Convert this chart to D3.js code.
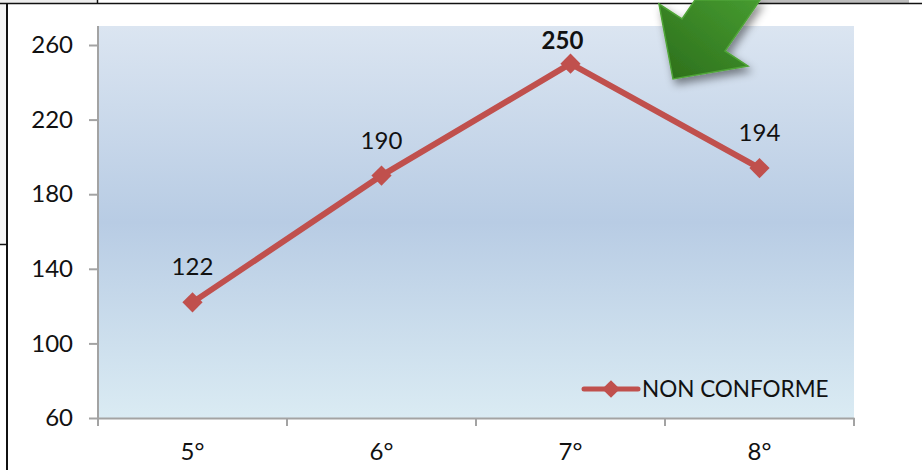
<!DOCTYPE html>
<html>
<head>
<meta charset="utf-8">
<script src="https://cdn.jsdelivr.net/npm/d3@7"></script>
<style>
  html, body { margin: 0; padding: 0; background: #fff; }
  svg { display: block; }
  text { font-family: Lato, "Open Sans", sans-serif; fill: #111; }
</style>
</head>
<body>
<div id="chart"></div>
<script>
const categories = ["5°", "6°", "7°", "8°"];
const values = [122, 190, 250, 194];
const boldLabels = [false, false, true, false];
const yTicks = [60, 100, 140, 180, 220, 260];
const seriesName = "NON CONFORME";
const arrowOutline = [[659,4],[682,19],[695,0],[760,0],[725,51],[748,66],[673,79]];

const width = 922, height = 470;
const margin = {top: 26, right: 68, bottom: 52, left: 98};
const lineColor = "#c0504d", axisColor = "#a3a3a3";

const svg = d3.select("#chart").append("svg")
    .attr("width", width)
    .attr("height", height);

const defs = svg.append("defs");

// plot background
const bg = defs.append("linearGradient").attr("id", "plotBg")
    .attr("x1", 0).attr("y1", 0).attr("x2", 0).attr("y2", 1);
bg.append("stop").attr("offset", "0%").attr("stop-color", "#dbe5f1");
bg.append("stop").attr("offset", "50%").attr("stop-color", "#b8cce4");
bg.append("stop").attr("offset", "100%").attr("stop-color", "#daebf3");

const arrowFill = defs.append("linearGradient").attr("id", "arrowFill")
    .attr("x1", 1).attr("y1", 0).attr("x2", 0).attr("y2", 1);
arrowFill.append("stop").attr("offset", "0%").attr("stop-color", "#469b30");
arrowFill.append("stop").attr("offset", "100%").attr("stop-color", "#2c6e1b");

const shadow = defs.append("filter").attr("id", "arrowShadow")
    .attr("x", "-30%").attr("y", "-30%").attr("width", "170%").attr("height", "170%");
shadow.append("feDropShadow")
    .attr("dx", 3).attr("dy", 5).attr("stdDeviation", 4)
    .attr("flood-color", "#000").attr("flood-opacity", 0.45);

// page furniture behind the chart
svg.append("rect").attr("x", 0).attr("y", 0).attr("width", 6).attr("height", 244).attr("fill", "#f4f4f4");
svg.append("rect").attr("x", 760).attr("y", 0).attr("width", 149).attr("height", 3).attr("fill", "#bdbdbd");
svg.append("rect").attr("x", 0).attr("y", 0).attr("width", 97).attr("height", 3).attr("fill", "#ededed");
svg.append("line").attr("x1", 0).attr("x2", 922).attr("y1", 3.5).attr("y2", 3.5).attr("stroke", "#111").attr("stroke-width", 1.5);
svg.append("line").attr("x1", 97.5).attr("x2", 97.5).attr("y1", 0).attr("y2", 3).attr("stroke", "#111").attr("stroke-width", 1.5);
svg.append("line").attr("x1", 7).attr("x2", 7).attr("y1", 3).attr("y2", 470).attr("stroke", "#111").attr("stroke-width", 2);
svg.append("line").attr("x1", 0).attr("x2", 7).attr("y1", 244.5).attr("y2", 244.5).attr("stroke", "#111").attr("stroke-width", 1.5);

const x = d3.scaleBand().domain(categories)
    .range([margin.left, width - margin.right]);
const y = d3.scaleLinear().domain([60, 260])
    .range([height - margin.bottom, 45]);

svg.append("rect")
    .attr("x", margin.left).attr("y", margin.top)
    .attr("width", width - margin.right - margin.left)
    .attr("height", height - margin.bottom - margin.top)
    .attr("fill", "url(#plotBg)");

// axes
const yAxisG = svg.append("g")
    .attr("transform", "translate(" + margin.left + ",0)")
    .call(d3.axisLeft(y).tickValues(yTicks).tickSize(9).tickPadding(16));
yAxisG.select(".domain").attr("d", "M0," + margin.top + "V" + (height - margin.bottom + 8));

const xAxisG = svg.append("g")
    .attr("transform", "translate(0," + (height - margin.bottom) + ")")
    .call(d3.axisBottom(x).tickSize(0).tickPadding(25));

// ticks sit on the category boundaries
xAxisG.selectAll(".boundary")
    .data(x.domain().map(d => x(d)).concat([x.range()[1]]))
    .join("line")
    .attr("class", "boundary")
    .attr("x1", d => d).attr("x2", d => d)
    .attr("y1", 0).attr("y2", 8);

svg.selectAll(".domain, .tick line, .boundary")
    .attr("stroke", axisColor).attr("stroke-width", 2);
svg.selectAll(".tick text")
    .attr("font-family", "Lato").attr("font-size", 24).attr("fill", "#111");

// series
const pointX = d => x(d) + x.bandwidth() / 2;
const line = d3.line()
    .x((d, i) => pointX(categories[i]))
    .y(d => y(d));

svg.append("path")
    .datum(values)
    .attr("d", line)
    .attr("fill", "none")
    .attr("stroke", lineColor)
    .attr("stroke-width", 6)
    .attr("stroke-linejoin", "round");

const diamond = d3.symbol().type(d3.symbolDiamond2).size(260);
const legendDiamond = d3.symbol().type(d3.symbolDiamond2).size(200);

svg.selectAll(".dot")
    .data(values)
    .join("path")
    .attr("class", "dot")
    .attr("d", diamond())
    .attr("fill", lineColor)
    .attr("transform", (d, i) => "translate(" + pointX(categories[i]) + "," + y(d) + ")");

// the bold peak label was moved by hand in the original, closer to its point
svg.selectAll(".valueLabel")
    .data(values)
    .join("text")
    .attr("class", "valueLabel")
    .attr("text-anchor", "middle")
    .attr("x", (d, i) => pointX(categories[i]) - (boldLabels[i] ? 8 : 0))
    .attr("y", (d, i) => y(d) - (boldLabels[i] ? 15 : 27))
    .attr("font-size", 24)
    .attr("font-weight", (d, i) => boldLabels[i] ? 700 : 400)
    .text(d => d);

// legend
const legend = svg.append("g").attr("transform", "translate(584,389)");
legend.append("line")
    .attr("x1", 0).attr("x2", 54).attr("y1", 0).attr("y2", 0)
    .attr("stroke", lineColor).attr("stroke-width", 5).attr("stroke-linecap", "round");
legend.append("path")
    .attr("d", legendDiamond())
    .attr("transform", "translate(27,0)")
    .attr("fill", lineColor);
legend.append("text")
    .attr("x", 58).attr("y", 8)
    .attr("font-size", 22.5)
    .text(seriesName);

// green arrow callout
svg.append("polygon")
    .attr("points", arrowOutline.map(p => p.join(",")).join(" "))
    .attr("fill", "url(#arrowFill)")
    .attr("stroke", "#4fa437")
    .attr("stroke-width", 1.5)
    .attr("filter", "url(#arrowShadow)");
</script>
</body>
</html>
